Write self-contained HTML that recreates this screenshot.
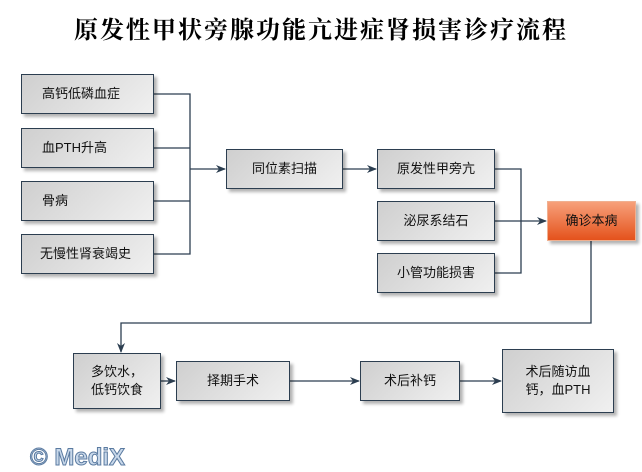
<!DOCTYPE html>
<html><head><meta charset="utf-8"><style>
body{margin:0;width:642px;height:467px;background:#fff;position:relative;overflow:hidden;font-family:"Liberation Sans","Noto Sans CJK SC",sans-serif;}
.t{position:absolute;left:0;width:642px;top:10px;text-align:center;font-family:"Liberation Serif","Noto Serif CJK SC",serif;font-weight:bold;font-size:24px;letter-spacing:2px;color:#000;}
.b{position:absolute;box-sizing:border-box;border:1px solid #2c3e50;background:linear-gradient(135deg,#cfcfcf,#f0f0f0);box-shadow:3px 3px 3px rgba(0,0,0,.3);display:flex;align-items:center;justify-content:center;text-align:center;font-size:13px;color:#111;line-height:18px;}
.l{justify-content:flex-start;padding-left:20px;}
.r{background:linear-gradient(180deg,#f7a07a,#e4521c);border-color:#f0b090;}
.m{position:absolute;left:30px;top:444px;font-family:"Liberation Sans",sans-serif;font-weight:bold;font-size:24px;color:#c8d8ea;-webkit-text-stroke:1px #5a7aa0;}
</style></head><body>
<div class="t">原发性甲状旁腺功能亢进症肾损害诊疗流程</div>
<svg width="642" height="467" style="position:absolute;left:0;top:0">
<defs><marker id="a" markerWidth="10" markerHeight="8" refX="9" refY="4" orient="auto" markerUnits="userSpaceOnUse"><path d="M0,0L10,4L0,8L3,4z" fill="#2c3e50"/></marker></defs>
<g stroke="#2c3e50" stroke-width="1.3" fill="none">
<path d="M154,94H190V254H154M154,148H190M154,201H190"/>
<path d="M190,169H225" marker-end="url(#a)"/>
<path d="M343,169H376" marker-end="url(#a)"/>
<path d="M495,169H521V273H495M495,221H521"/>
<path d="M521,221H546" marker-end="url(#a)"/>
<path d="M591,241V323H121V352" marker-end="url(#a)"/>
<path d="M161,381H175" marker-end="url(#a)"/>
<path d="M290,381H359" marker-end="url(#a)"/>
<path d="M460,381H501" marker-end="url(#a)"/>
</g></svg>
<div class="b l" style="left:21px;top:74px;width:133px;height:40px">高钙低磷血症</div>
<div class="b l" style="left:21px;top:128px;width:133px;height:40px">血PTH升高</div>
<div class="b l" style="left:21px;top:181px;width:133px;height:40px">骨病</div>
<div class="b l" style="left:21px;top:234px;width:133px;height:40px;padding-left:18px">无慢性肾衰竭史</div>
<div class="b" style="left:226px;top:149px;width:117px;height:40px">同位素扫描</div>
<div class="b" style="left:377px;top:149px;width:118px;height:40px">原发性甲旁亢</div>
<div class="b" style="left:377px;top:201px;width:118px;height:40px">泌尿系结石</div>
<div class="b" style="left:377px;top:253px;width:118px;height:40px">小管功能损害</div>
<div class="b r" style="left:547px;top:201px;width:89px;height:40px">确诊本病</div>
<div class="b" style="left:73px;top:353px;width:88px;height:56px">多饮水，<br>低钙饮食</div>
<div class="b" style="left:176px;top:361px;width:114px;height:40px">择期手术</div>
<div class="b" style="left:360px;top:361px;width:100px;height:40px">术后补钙</div>
<div class="b" style="left:502px;top:349px;width:112px;height:64px">术后随访血<br>钙，血PTH</div>
<div class="m">© MediX</div>
</body></html>
